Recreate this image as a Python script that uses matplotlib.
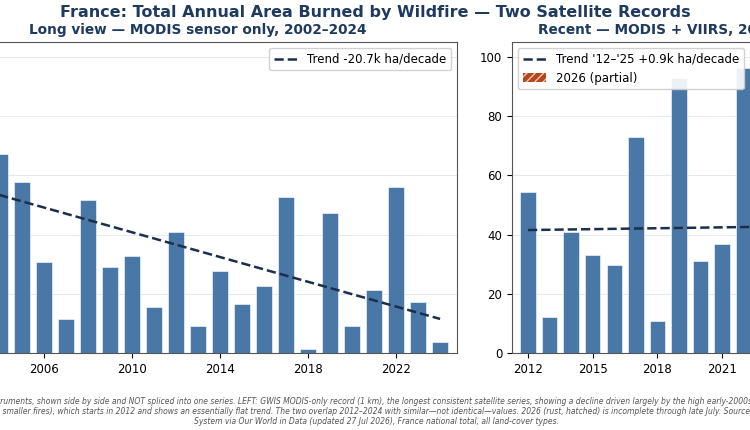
import matplotlib
matplotlib.use("Agg")
import matplotlib.pyplot as plt
import numpy as np

# burned area, thousand hectares
modis_years = list(range(2002, 2025))
modis_kha = [80, 92, 67.2, 57.9, 30.7, 11.6, 51.5, 29.0, 32.8, 15.4, 40.8, 9.1,
             27.6, 16.5, 22.7, 52.6, 1.2, 47.4, 9.0, 21.3, 56.2, 17.3, 3.6]

recent_years = list(range(2012, 2026))
recent_kha = [54.5, 12.3, 40.8, 33.0, 29.7, 72.9, 10.9, 93.0, 31.2, 36.9, 96.3,
              36, 31, 12]
partial_year = 2026
partial_kha = 15

left_ticks = [2002, 2006, 2010, 2014, 2018, 2022]
right_ticks = [2012, 2015, 2018, 2021, 2024]
y_ticks = [0, 20, 40, 60, 80, 100]

bar_color = "#4a78a6"
trend_color = "#1b2f4d"
rust = "#b5461c"
navy = "#1f3a5f"

fig = plt.figure(figsize=(7.5, 4.3), dpi=100)
ax1 = fig.add_axes([-0.0813, 0.179, 0.6907, 0.7233])
ax2 = fig.add_axes([0.6827, 0.179, 0.4453, 0.7233])

# left: MODIS only
ax1.bar(modis_years, modis_kha, width=0.72, color=bar_color, edgecolor="white", lw=0.4, zorder=2)
k, b = np.polyfit(modis_years, modis_kha, 1)
xs = np.array([modis_years[0], modis_years[-1]])
ax1.plot(xs, k * xs + b, ls="--", color=trend_color, lw=1.8, zorder=3,
         label="Trend -20.7k ha/decade")
ax1.set_xticks(left_ticks)
ax1.set_xlim(2001.23, 2024.77)
ax1.legend(loc="upper right", fontsize=8.5, framealpha=0.9)
ax1.set_title("Long view — MODIS sensor only, 2002–2024", fontsize=9.8, fontweight="bold",
              color=navy, pad=6)

# right: MODIS + VIIRS
ax2.bar(recent_years, recent_kha, width=0.72, color=bar_color, edgecolor="white", lw=0.4, zorder=2)
part = ax2.bar([partial_year], [partial_kha], width=0.72, color=rust, edgecolor="#f2c9b4",
               hatch="////", lw=0, zorder=2)
k2, b2 = np.polyfit(recent_years, recent_kha, 1)
xs2 = np.array([recent_years[0], recent_years[-1]])
tr, = ax2.plot(xs2, k2 * xs2 + b2, ls="--", color=trend_color, lw=1.8, zorder=3)
ax2.set_xticks(right_ticks)
ax2.set_xlim(2011.26, 2026.74)
ax2.legend([tr, part], ["Trend '12–'25 +0.9k ha/decade", "2026 (partial)"],
           loc="upper left", fontsize=8.5, framealpha=0.9)
ax2.set_title("Recent — MODIS + VIIRS, 2012–2026", fontsize=9.8, fontweight="bold",
              color=navy, pad=6)

for ax in (ax1, ax2):
    ax.set_ylim(0, 105)
    ax.set_yticks(y_ticks)
    ax.grid(axis="y", color="#e4e4e4", lw=0.6, zorder=0)
    ax.tick_params(labelsize=8.5)
    for s in ax.spines.values():
        s.set_color("#555555")

fig.suptitle("France: Total Annual Area Burned by Wildfire — Two Satellite Records",
             fontsize=11.5, fontweight="bold", color=navy, y=0.988)

# footnote, three lines; lines 1-2 are shifted so their visible part lands where it should
note_lines = [
    ("Area burned from two satellite inst",
     "ruments, shown side by side and NOT spliced into one series. LEFT: GWIS MODIS-only record (1 km), "
     "the longest consistent satellite series, showing a decline driven largely by the high early-2000s "
     "years. RIGHT: GWIS MODIS+VIIRS", 1, 401),
    ("record (375 m, detects more ",
     "smaller fires), which starts in 2012 and shows an essentially flat trend. The two overlap 2012–2024 "
     "with similar—not identical—values. 2026 (rust, hatched) is incomplete through late July. Source: "
     "Global Wildfire Information", 3, 411),
]
note_last = "System via Our World in Data (updated 27 Jul 2026), France national total, all land-cover types."
W, H = 750, 430
renderer = fig.canvas.get_renderer()
fkw = dict(fontsize=5.48, style="italic", color="#555555", va="center")
for prefix, rest, px, py in note_lines:
    probe = fig.text(0, 0, prefix, **fkw)
    shift = probe.get_window_extent(renderer).width
    probe.remove()
    fig.text((px - shift) / W, 1 - py / H, prefix + rest, ha="left", **fkw)
fig.text(376 / W, 1 - 421 / H, note_last, ha="center", **fkw)

fig.savefig("out.png", dpi=100)
